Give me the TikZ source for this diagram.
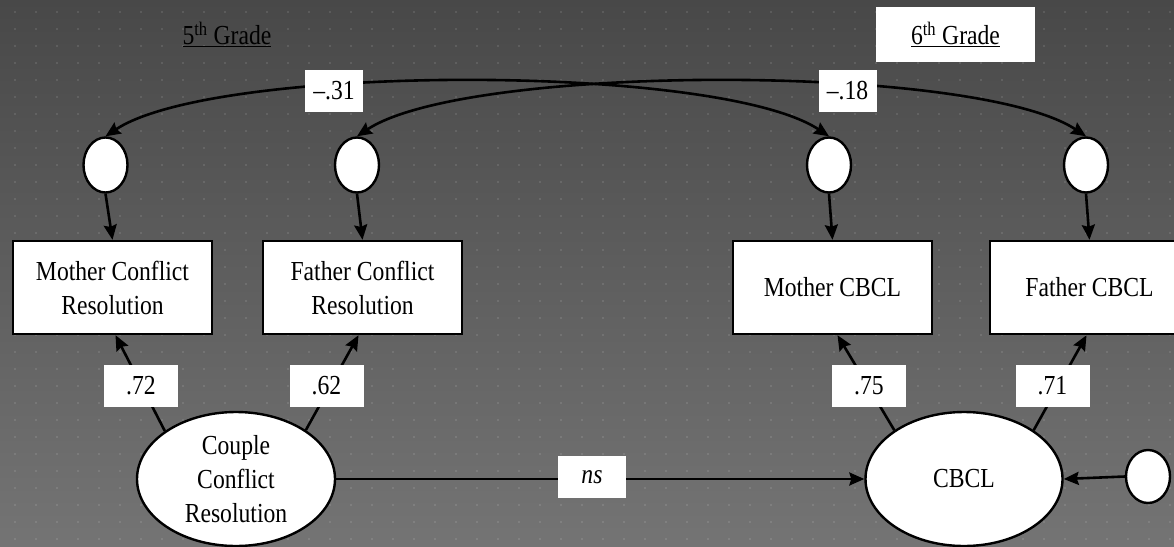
\documentclass[tikz,border=0pt]{standalone}
\usepackage{fontspec}
\setmainfont{Liberation Serif}[FakeStretch=0.86]
\usetikzlibrary{shapes.geometric,arrows.meta}
\begin{document}
\begin{tikzpicture}[x=1pt,y=-1pt,
  every node/.style={font=\fontsize{27.5}{34}\selectfont},
  obs/.style={draw=black, line width=2.4pt, fill=white, minimum width=199pt, minimum height=93pt, inner sep=0pt, align=center},
  err/.style={ellipse, draw=black, line width=2.4pt, fill=white, minimum width=44pt, minimum height=55pt, inner sep=0pt},
  lat/.style={ellipse, draw=black, line width=2.4pt, fill=white, minimum width=198pt, minimum height=134pt, inner sep=0pt, align=center},
  coef/.style={fill=white, minimum height=42pt, inner sep=0pt},
  conn/.style={line width=2.6pt, -{Stealth[length=15pt,width=13pt,inset=2pt]}},
  cov/.style={line width=2.6pt, {Stealth[length=15pt,width=13pt,inset=2pt]}-{Stealth[length=15pt,width=13pt,inset=2pt]}}
]
\useasboundingbox (0,0) rectangle (1174,546);
\clip (0,0) rectangle (1174,546);
\shade[top color={rgb,255:red,72;green,72;blue,72}, bottom color={rgb,255:red,116;green,116;blue,116}] (0,0) rectangle (1174,546);
\foreach \i in {0,...,55} {
  \foreach \j in {0,...,31} {
    \fill[white, opacity=0.1] (13.7+21*\i, 11.3+17*\j) rectangle ++(2,2);
  }
}

% headings
\node (g5) at (227,34) {\underline{5\textsuperscript{th} Grade}};
\node[fill=white, minimum width=159pt, minimum height=55pt, inner sep=0pt] (g6) at (955.5,34) {\underline{6\textsuperscript{th} Grade}};

% error terms
\node[err] (e1) at (105.5,165) {};
\node[err] (e2) at (357,165) {};
\node[err] (e3) at (829,165) {};
\node[err] (e4) at (1086,165) {};
\node[err, minimum height=53pt] (e5) at (1148,476.5) {};

% observed variables
\node[obs] (mcr) at (112.5,287.5) {Mother Conflict\\Resolution};
\node[obs] (fcr) at (362.5,287.5) {Father Conflict\\Resolution};
\node[obs] (mcb) at (832.5,287.5) {Mother CBCL};
\node[obs] (fcb) at (1089.5,287.5) {Father CBCL};

% latent variables
\node[lat] (cc) at (236,479) {Couple\\Conflict\\Resolution};
\node[lat, minimum width=197pt] (cb) at (964,479) {CBCL};

% covariances
\draw[cov] (e1.north) .. controls +(110,-73) and +(-110,-73) .. (e3.north);
\draw[cov] (e2.north) .. controls +(110,-73) and +(-110,-73) .. (e4.north);
\node[coef, minimum width=58pt] (c31) at (334,91) {\textendash.31};
\node[coef, minimum width=58pt] (c18) at (847.5,91) {\textendash.18};

% error arrows
\draw[conn] (e1.south) -- (mcr.north);
\draw[conn] (e2.south) -- (fcr.north);
\draw[conn] (e3.south) -- (mcb.north);
\draw[conn] (e4.south) -- (fcb.north);
\draw[conn] (e5.west) -- (cb.east);

% loadings
\draw[conn] (cc.146) -- ([xshift=3pt]mcr.south);
\draw[conn] (cc.35) -- ([xshift=-4pt]fcr.south);
\draw[conn] (cb.145) -- ([xshift=5pt]mcb.south);
\draw[conn] (cb.35) -- ([xshift=-3pt]fcb.south);
\node[coef, minimum width=74pt] (l72) at (141,386) {.72};
\node[coef, minimum width=74pt] (l62) at (326.5,386) {.62};
\node[coef, minimum width=74pt] (l75) at (869,386) {.75};
\node[coef, minimum width=74pt] (l71) at (1052.5,386) {.71};

% structural path
\draw[conn] (cc.east) -- (cb.west);
\node[coef, minimum width=68pt] (lns) at (592,477) {\textit{ns}};
\end{tikzpicture}
\end{document}
